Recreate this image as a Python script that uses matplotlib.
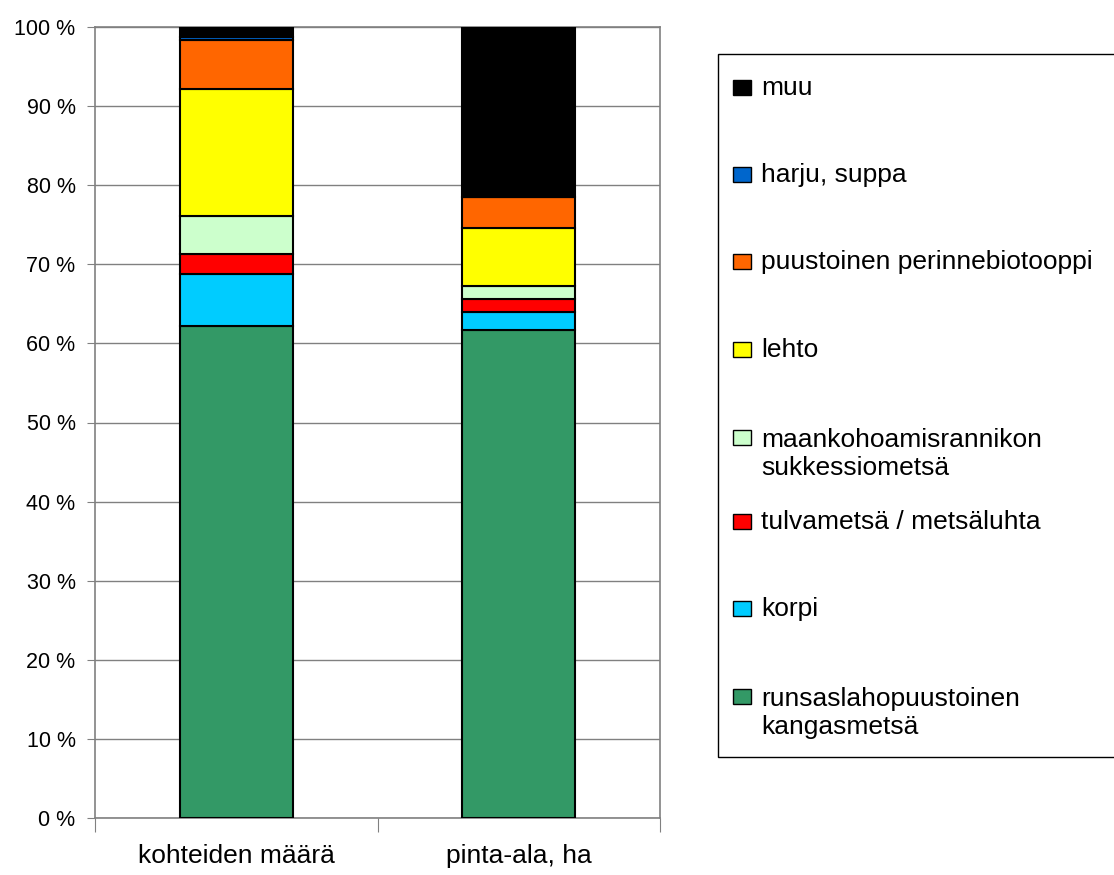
import numpy as np
import matplotlib.pyplot as plt
from matplotlib.patches import Rectangle

plt.rcParams['font.family'] = ['Liberation Sans', 'DejaVu Sans']

categories = ['kohteiden määrä', 'pinta-ala, ha']
labels = ['runsaslahopuustoinen\nkangasmetsä', 'korpi', 'tulvametsä / metsäluhta',
          'maankohoamisrannikon\nsukkessiometsä', 'lehto', 'puustoinen perinnebiotooppi',
          'harju, suppa', 'muu']
colors = ['#339966', '#00ccff', '#ff0000', '#ccffcc', '#ffff00', '#ff6600', '#0066cc', '#000000']
# percent shares, bottom to top
kohteet = [62.2, 6.6, 2.5, 4.8, 16.1, 6.1, 0.4, 1.3]
pinta_ala = [61.7, 2.3, 1.6, 1.7, 7.3, 3.9, 0.0, 21.5]

fig = plt.figure(figsize=(11.14, 8.75), dpi=100)
ax = fig.add_axes([95/1114, 1 - 818/875, 565/1114, 791/875])

x = np.arange(len(categories))
bottom = np.zeros(len(categories))
for i in range(len(labels)):
    vals = np.array([kohteet[i], pinta_ala[i]])
    ax.bar(x, vals, width=0.4, bottom=bottom, color=colors[i], edgecolor='black', linewidth=1.5, zorder=3)
    bottom += vals

ax.set_xlim(-0.5, 1.5)
ax.set_ylim(0, 100)
ax.set_yticks(np.arange(0, 101, 10))
ax.set_yticklabels([f'{v} %' for v in range(0, 101, 10)], fontsize=15.5)
ax.yaxis.grid(True, color='#808080', linewidth=1, zorder=0)
ax.tick_params(axis='y', direction='out', length=6, color='#808080', pad=8)

ax.set_xticks([-0.5, 0.5, 1.5])
ax.set_xticklabels([])
ax.tick_params(axis='x', direction='out', length=10, color='#808080')
for xi, name in zip(x, categories):
    ax.text(xi, -3.3, name, ha='center', va='top', fontsize=19, transform=ax.transData)

for s in ax.spines.values():
    s.set_color('#808080')
    s.set_linewidth(1.2)

# legend drawn by hand, top entry first
lx0, ly0, lx1, ly1 = 718, 54, 1114, 757
fig.patches.append(Rectangle((lx0/1114, 1 - ly1/875), (lx1 - lx0 + 5)/1114, (ly1 - ly0)/875,
                             transform=fig.transFigure, facecolor='white', edgecolor='black',
                             linewidth=1, zorder=1))
rows = [88, 175, 262, 350, 454, 522, 609, 713]
for row, lab, col in zip(rows, labels[::-1], colors[::-1]):
    n_lines = lab.count('\n') + 1
    first = row - (n_lines - 1) * 16
    fig.patches.append(Rectangle((733/1114, 1 - (first + 7)/875), 18/1114, 15/875,
                                 transform=fig.transFigure, facecolor=col, edgecolor='black',
                                 linewidth=1, zorder=2))
    fig.text(761/1114, 1 - row/875, lab, ha='left', va='center', fontsize=19,
             linespacing=1.16, zorder=3)

fig.savefig('out.png', dpi=100)
